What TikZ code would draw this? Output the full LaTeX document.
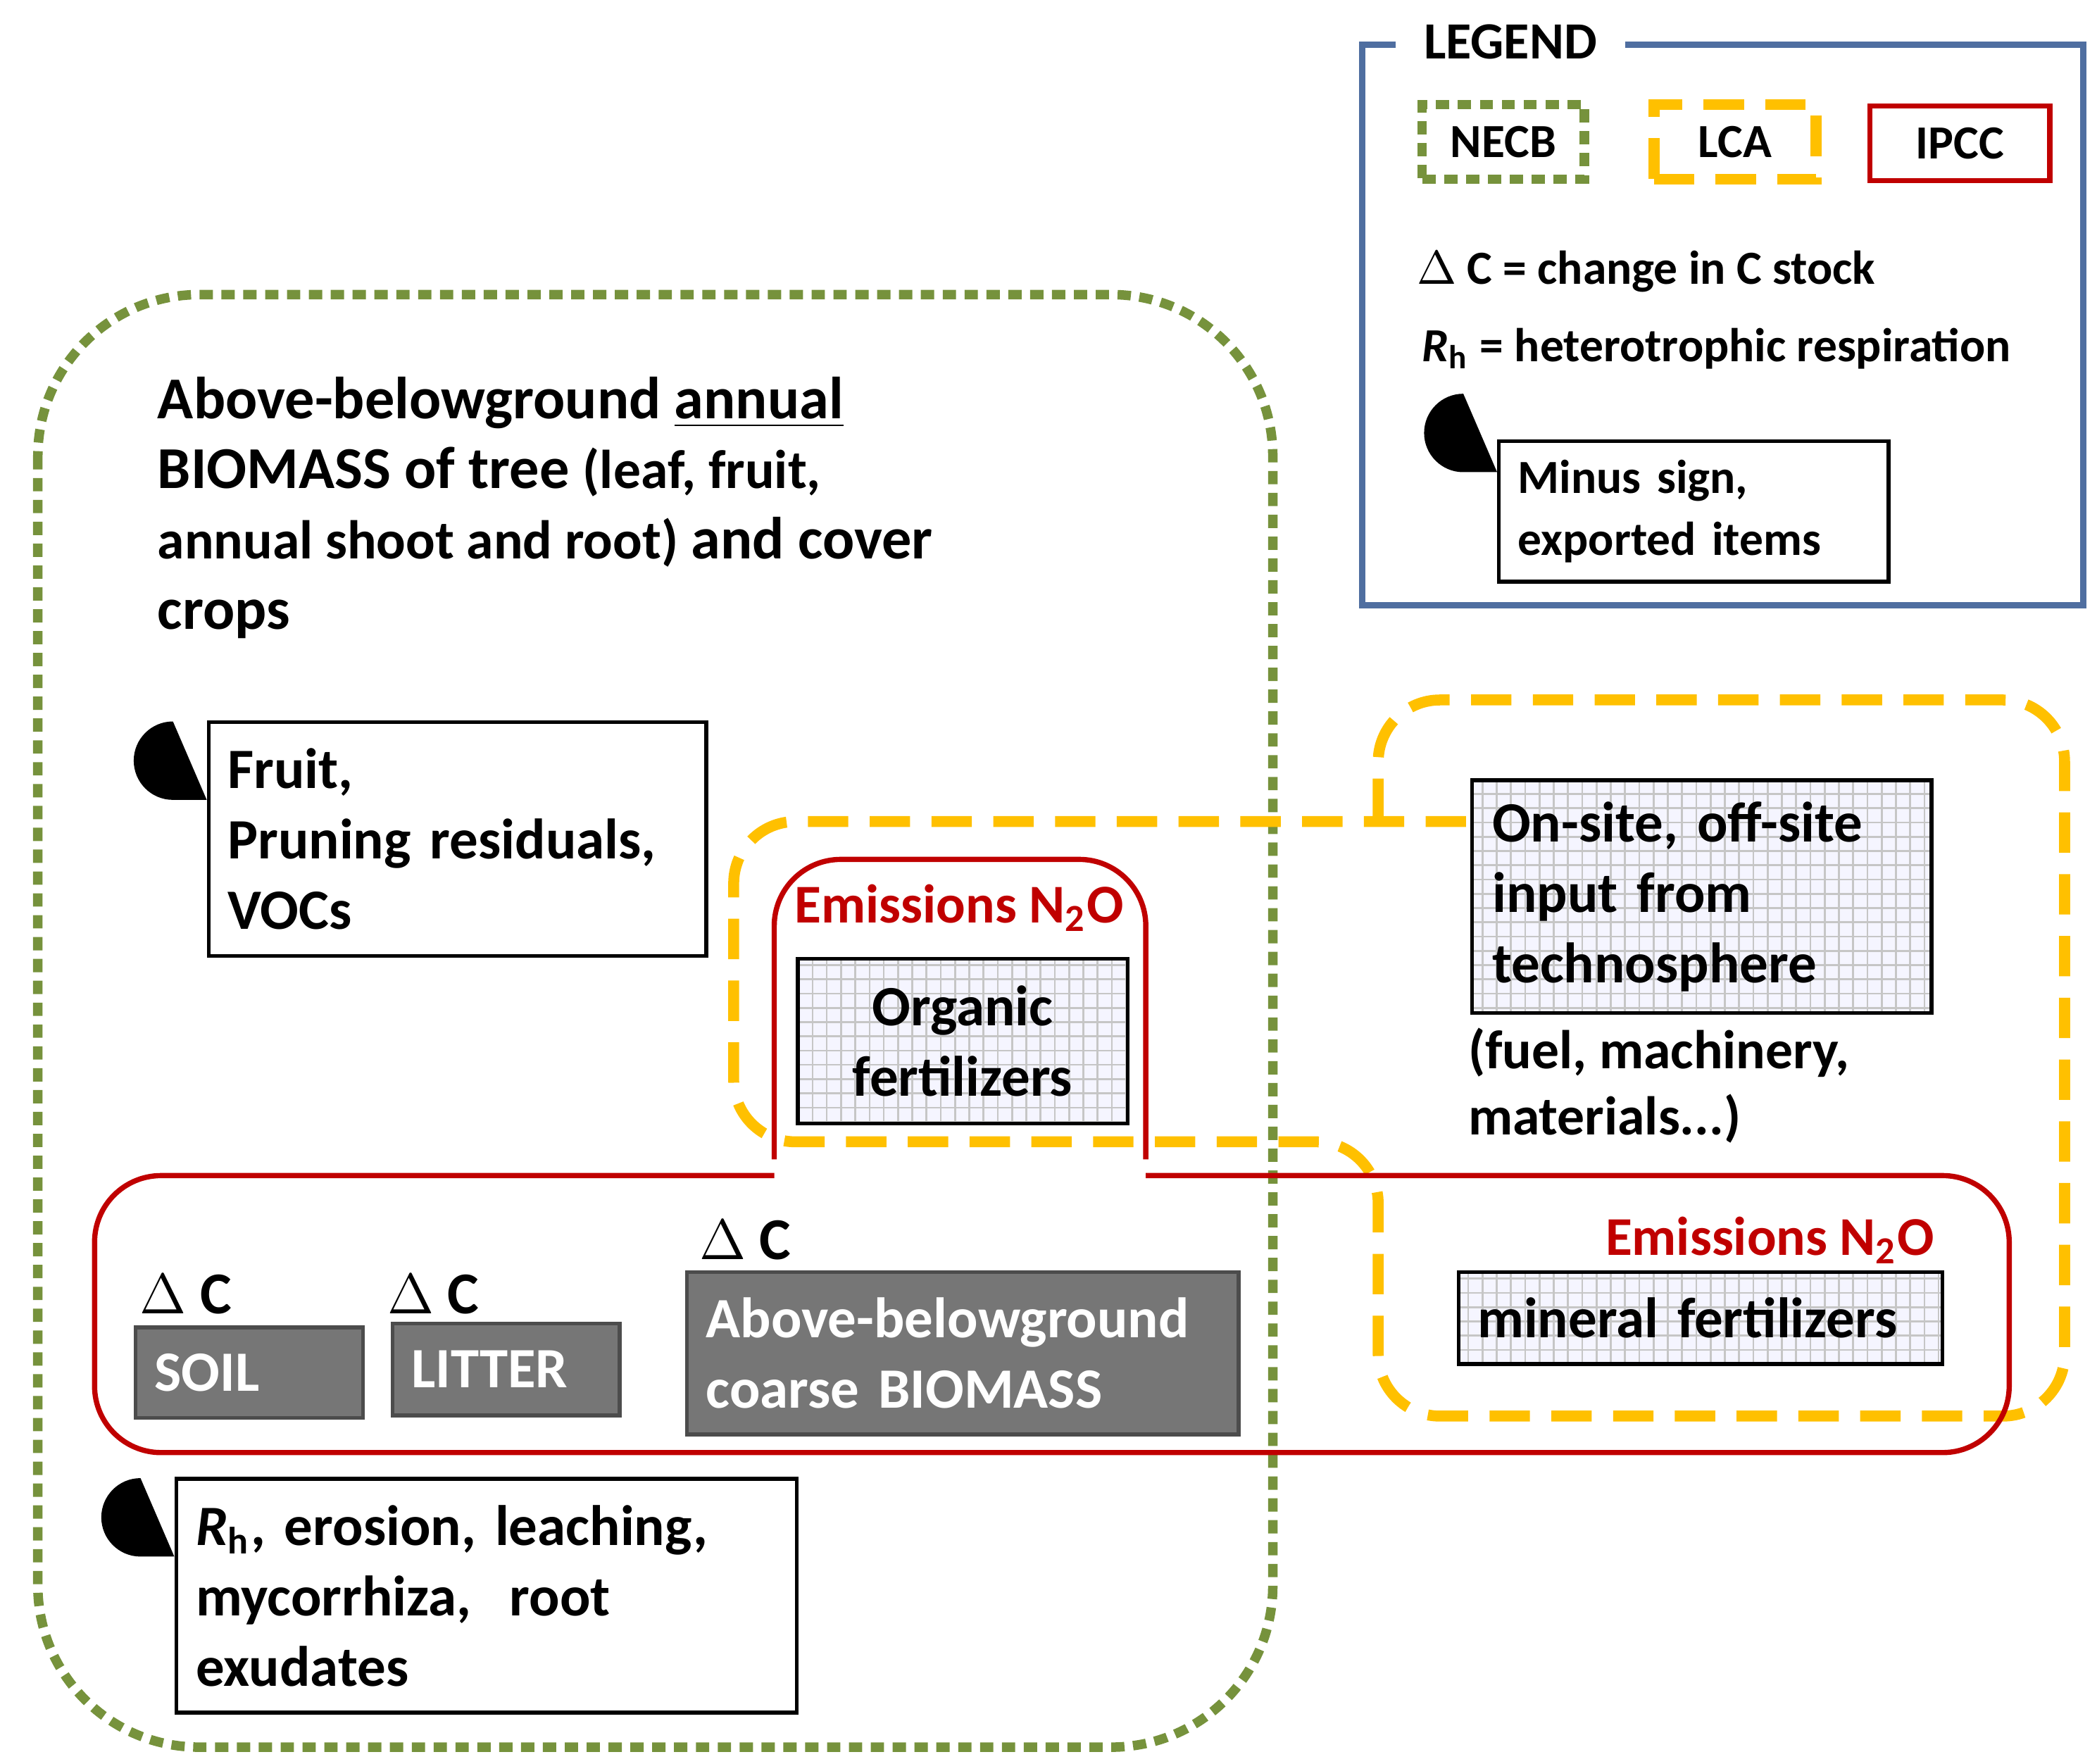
\documentclass[tikz,border=0pt]{standalone}
\usepackage{fontspec}
\setmainfont{Carlito}
\usetikzlibrary{patterns}
\definecolor{necbgreen}{RGB}{118,146,60}
\definecolor{lcayellow}{RGB}{255,192,0}
\definecolor{ipccred}{RGB}{192,0,0}
\definecolor{legendblue}{RGB}{79,110,160}
\definecolor{stockgray}{RGB}{118,118,118}
\tikzset{
	necb/.style={line width=2pt, necbgreen, dash pattern=on 2.8pt off 1.8pt},
	lca/.style={line width=2.3pt, lcayellow, dash pattern=on 8.5pt off 4.5pt},
	ipcc/.style={line width=1.1pt, ipccred},
	item/.style={draw, thick, anchor=north west, align=left, inner sep=4pt, font=\bfseries\fontsize{12}{14.8}\selectfont},
	input/.style={item, preaction={fill=blue!4}, pattern=grid, pattern color=gray!45},
	stock/.style={draw=black!70, thick, fill=stockgray, text=white, anchor=north west, align=left, inner sep=4pt, font=\bfseries\fontsize{12}{14.8}\selectfont},
	lbl/.style={anchor=west, inner sep=0pt, font=\bfseries\fontsize{12.5}{15}\selectfont},
	leg/.style={anchor=west, inner sep=0pt, font=\bfseries\fontsize{10}{12.5}\selectfont},
	emis/.style={text=ipccred, inner sep=0pt, font=\bfseries\fontsize{11.5}{14}\selectfont},
}
\newcommand{\exportsign}[1]{%
	\fill ([yshift=0.29cm]#1.west) -- ++(-0.25cm,0) arc (-90:-270:0.29cm) -- cycle;
	\draw[white, line width=1.3pt] ([xshift=-0.34cm]#1.west) -- ++(0.2cm,0);}
\begin{document}
\begin{tikzpicture}[x=0.01cm, y=-0.01cm]
	\useasboundingbox (0,0) rectangle (1552,1305);

	% NECB boundary
	\draw[necb, rounded corners=34pt] (28,218) rectangle (942,1293);

	% legend
	\draw[legendblue, line width=1.3pt] (1008,33) rectangle (1542,448);
	\node[leg, fill=white, inner xsep=6pt, font=\bfseries\fontsize{11}{13}\selectfont] (legtitle) at (1032,31) {LEGEND};
	\node[leg, draw, necb, text=black, minimum width=1.2cm, minimum height=0.55cm, align=center] (legnecb) at (1049,105) {NECB};
	\node[leg, draw, lca, text=black, minimum width=1.2cm, minimum height=0.55cm, align=center] (leglca) at (1220,105) {LCA};
	\node[leg, draw, ipcc, text=black, minimum width=1.33cm, minimum height=0.55cm, align=center] (legipcc) at (1382,106) {IPCC};
	\node[leg] (legdc) at (1048,201) {$\Delta$ C = change in C stock};
	\node[leg] (legrh) at (1052,258) {\textit{R}\textsubscript{h} = heterotrophic respiration};
	\node[item, font=\bfseries\fontsize{10}{13}\selectfont, minimum width=2.88cm, minimum height=0.94cm, text width=2.6cm] (legminus) at (1108,325) {Minus sign,\\exported items};
	\exportsign{legminus}

	% annual biomass
	\node[anchor=north west, align=left, inner sep=0pt, font=\bfseries\fontsize{12.5}{14.8}\selectfont] (annual) at (116,278)
		{Above-belowground \underline{annual}\\BIOMASS of tree {\fontsize{11.5}{14.8}\selectfont(leaf, fruit,}\\{\fontsize{11.5}{14.8}\selectfont annual shoot and root)} and cover\\crops};
	\node[item, minimum width=3.67cm, minimum height=1.73cm, text width=3.4cm] (fruit) at (153,533) {Fruit,\\Pruning residuals,\\VOCs};
	\exportsign{fruit}

	% LCA boundary
	\draw[lca, rounded corners=13pt] (1085,608) -- (543,608) -- (543,845) -- (1020,845) -- (1020,1048)
		-- (1528,1048) -- (1528,518) -- (1020,518) -- (1020,609);

	% IPCC boundary
	\draw[ipcc, rounded corners=14pt] (573,870) -- (70,870) -- (70,1075) -- (1487,1075) -- (1487,870) -- (848,870);
	\draw[ipcc, rounded corners=14pt] (573,858) -- (573,636) -- (848,636) -- (848,858);

	% inputs
	\node[emis] (emisorg) at (710,672) {Emissions N\textsubscript{2}O};
	\node[input, minimum width=2.44cm, minimum height=1.22cm, text width=2.1cm, align=center] (organic) at (589,708) {Organic\\fertilizers};
	\node[input, minimum width=3.4cm, minimum height=1.72cm, text width=3.1cm] (techno) at (1088,576) {On-site, off-site\\input from\\technosphere};
	\node[anchor=north west, align=left, inner sep=0pt, font=\bfseries\fontsize{11.5}{14}\selectfont] (technonote) at (1086,760) {(fuel, machinery,\\materials...)};
	\node[emis] (emismin) at (1310,918) {Emissions N\textsubscript{2}O};
	\node[input, minimum width=3.54cm, minimum height=0.68cm, text width=3.3cm] (mineral) at (1078,940) {mineral fertilizers};

	% carbon stocks
	\node[lbl] (dcsoil) at (103,958) {$\Delta$ C};
	\node[lbl] (dclitter) at (286,958) {$\Delta$ C};
	\node[lbl] (dcbiomass) at (517,918) {$\Delta$ C};
	\node[stock, minimum width=1.62cm, minimum height=0.67cm, text width=1.4cm] (soil) at (99,981) {SOIL};
	\node[stock, minimum width=1.62cm, minimum height=0.68cm, text width=1.4cm] (litter) at (289,978) {LITTER};
	\node[stock, minimum width=4.05cm, minimum height=1.2cm, text width=3.8cm] (biomass) at (507,940) {Above-belowground\\coarse BIOMASS};

	% soil losses
	\node[item, minimum width=4.59cm, minimum height=1.73cm, text width=4.3cm] (losses) at (129,1093) {\textit{R}\textsubscript{h}, erosion, leaching,\\mycorrhiza,\ \ root\\exudates};
	\exportsign{losses}
\end{tikzpicture}
\end{document}
